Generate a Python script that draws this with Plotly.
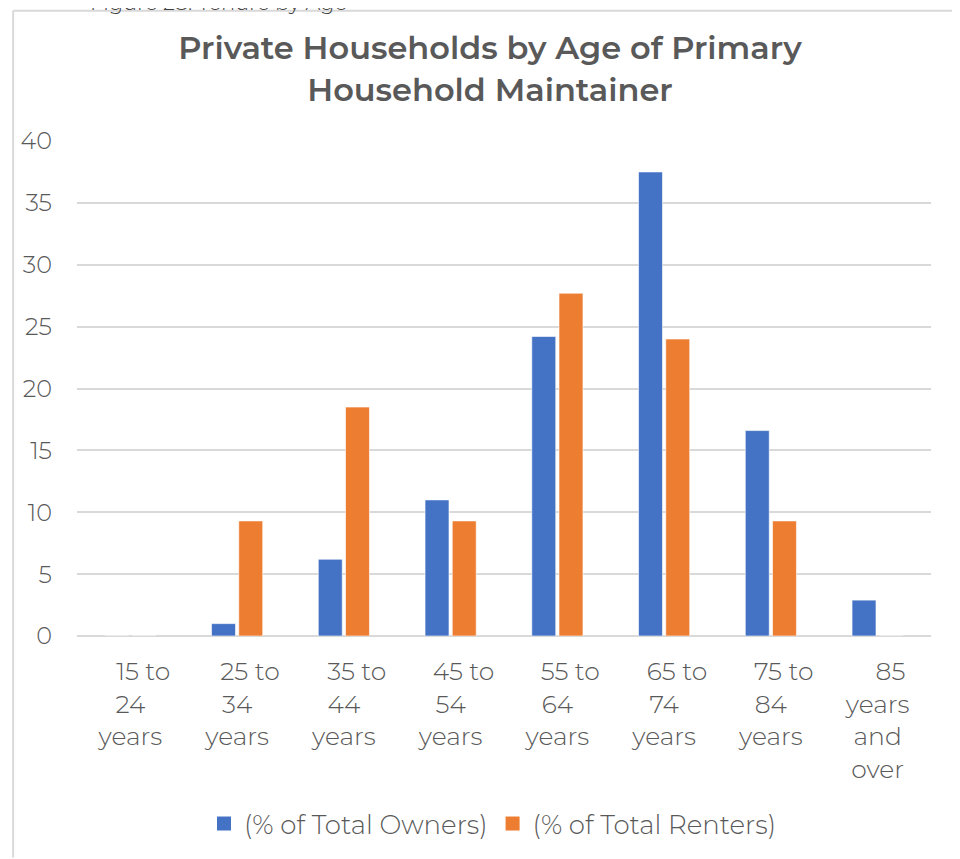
import plotly.graph_objects as go

categories = ["&nbsp;&nbsp;&nbsp;&nbsp;15 to<br>24<br>years", "&nbsp;&nbsp;&nbsp;&nbsp;25 to<br>34<br>years",
              "&nbsp;&nbsp;&nbsp;&nbsp;35 to<br>44<br>years", "&nbsp;&nbsp;&nbsp;&nbsp;45 to<br>54<br>years",
              "&nbsp;&nbsp;&nbsp;&nbsp;55 to<br>64<br>years", "&nbsp;&nbsp;&nbsp;&nbsp;65 to<br>74<br>years",
              "&nbsp;&nbsp;&nbsp;&nbsp;75 to<br>84<br>years", "&nbsp;&nbsp;&nbsp;&nbsp;85<br>years<br>and<br>over"]
owners = [0.0, 1.0, 6.2, 11.0, 24.2, 37.5, 16.6, 2.9]
renters = [0.0, 9.3, 18.5, 9.3, 27.7, 24.0, 9.3, 0.0]
y_ticks = [0, 5, 10, 15, 20, 25, 30, 35, 40]
series_names = ["(% of Total Owners)", "(% of Total Renters)"]
colors = ["#4472C4", "#ED7D31"]

FONT = "Montserrat, Lato, 'Open Sans', sans-serif"
OFF = 8  # page body margin
W, H = 952, 851
L, R, T, B = 67, 29, 133, 222
pw, ph = W - L - R, H - T - B

def px_x(p):  # page px -> paper x
    return (p - OFF - L) / pw

def px_y(p):  # page px -> paper y
    return (H - B - (p - OFF)) / ph

fig = go.Figure()
for name, vals, col in zip(series_names, [owners, renters], colors):
    fig.add_trace(go.Bar(x=categories, y=vals, name=name, showlegend=False,
                         marker=dict(color=col, line=dict(color="white", width=0.6))))
for name, col in zip(series_names, colors):
    fig.add_trace(go.Scatter(x=[None], y=[None], mode="markers", name=name,
                             marker=dict(symbol="square", size=14, color=col)))

fig.update_layout(
    width=W, height=H,
    margin=dict(l=L, r=R, t=T, b=B),
    paper_bgcolor="white", plot_bgcolor="white",
    barmode="group", bargap=0.49, bargroupgap=0.12,
    font=dict(family=FONT, color="#595959", size=24, weight=300),
    title=dict(text="Private Households by Age of Primary<br>Household Maintainer",
               x=482 / W, xanchor="center", y=1 - 51 / H, yanchor="top",
               font=dict(family=FONT, size=32, color="#595959", weight=600)),
    showlegend=True,
    legend=dict(orientation="h", x=px_x(492), xanchor="center", y=px_y(825), yanchor="middle",
                font=dict(family=FONT, size=26, color="#595959", weight=300),
                traceorder="normal", itemwidth=30),
    shapes=[
        dict(type="line", xref="paper", yref="paper", x0=px_x(11), x1=px_x(960),
             y0=px_y(10.5), y1=px_y(10.5), line=dict(color="#D9D9D9", width=2)),
        dict(type="line", xref="paper", yref="paper", x0=px_x(11), x1=px_x(11),
             y0=px_y(10.5), y1=px_y(859), line=dict(color="#D9D9D9", width=2)),
    ],
    annotations=[
        dict(text="Figure 28: Tenure by Age", xref="paper", yref="paper",
             x=px_x(86), y=px_y(17), xanchor="left", yanchor="bottom", showarrow=False,
             font=dict(family=FONT, size=21, color="#404040", weight=300)),
    ],
)
fig.update_xaxes(showgrid=False, showline=False, ticks="", ticklabelstandoff=18,
                 tickfont=dict(family=FONT, size=25, color="#595959", weight=300))
fig.update_yaxes(range=[0, 40], tickvals=y_ticks, showgrid=True, gridcolor="#D9D9D9", gridwidth=1.5,
                 zeroline=True, zerolinecolor="#D9D9D9", zerolinewidth=1.5,
                 showline=False, ticks="", ticklabelstandoff=24,
                 tickfont=dict(family=FONT, size=24, color="#595959", weight=300))

fig.write_html("out.html")
